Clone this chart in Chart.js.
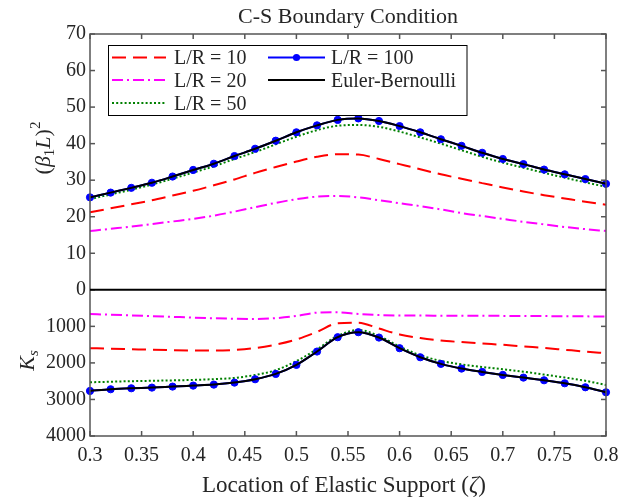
<!DOCTYPE html>
<html>
<head>
<meta charset="utf-8">
<script src="https://cdn.jsdelivr.net/npm/chart.js@4.4.0/dist/chart.umd.min.js"></script>
<style>
  html, body { margin: 0; padding: 0; background: #fff; }
  #wrap { width: 634px; height: 502px; }
</style>
</head>
<body>
<div id="wrap"><canvas id="chart" width="634" height="502"></canvas></div>
<script>
// --- DATA: support location and results per slenderness ratio ---
const zeta = [0.30, 0.32, 0.34, 0.36, 0.38, 0.40, 0.42, 0.44, 0.46, 0.48, 0.50, 0.52, 0.54,
              0.56, 0.58, 0.60, 0.62, 0.64, 0.66, 0.68, 0.70, 0.72, 0.74, 0.76, 0.78, 0.80];

// (beta1 L)^2, upper panel
const freqLR10  = [21.2, 22.3, 23.4, 24.5, 25.8, 27.1, 28.6, 30.2, 32.0, 33.6, 35.1, 36.4, 37.1,
                   37.0, 35.8, 34.4, 33.0, 31.6, 30.4, 29.2, 28.0, 26.9, 25.9, 25.0, 24.1, 23.3];
const freqLR20  = [16.1, 16.7, 17.3, 18.0, 18.7, 19.4, 20.3, 21.4, 22.6, 23.8, 24.8, 25.5, 25.7,
                   25.3, 24.5, 23.7, 22.9, 22.0, 21.0, 20.2, 19.4, 18.6, 17.9, 17.2, 16.6, 16.1];
const freqLR50  = [24.8, 26.1, 27.4, 28.8, 30.4, 32.1, 33.8, 35.8, 37.7, 39.8, 41.9, 43.7, 44.9,
                   45.1, 44.6, 43.3, 41.7, 40.0, 38.2, 36.4, 34.8, 33.4, 32.0, 30.7, 29.4, 28.2];
const freqLR100 = [25.3, 26.6, 27.9, 29.3, 31.0, 32.8, 34.5, 36.6, 38.6, 40.8, 43.1, 45.0, 46.5,
                   46.9, 46.2, 44.8, 43.1, 41.2, 39.4, 37.5, 35.8, 34.4, 32.9, 31.6, 30.3, 29.0];
const freqEB    = [25.3, 26.6, 27.9, 29.3, 31.0, 32.8, 34.5, 36.6, 38.6, 40.8, 43.1, 45.0, 46.5,
                   46.9, 46.2, 44.8, 43.1, 41.2, 39.4, 37.5, 35.8, 34.4, 32.9, 31.6, 30.3, 29.0];

// Ks, lower panel (axis runs downward)
const ksLR10  = [1598, 1610, 1625, 1640, 1652, 1660, 1662, 1645, 1595, 1500, 1360, 1150, 915,
                 900, 1060, 1220, 1320, 1390, 1430, 1470, 1505, 1550, 1590, 1640, 1690, 1735];
const ksLR20  = [665, 680, 700, 720, 740, 760, 778, 792, 800, 775, 715, 625, 615,
                 660, 692, 703, 705, 707, 709, 711, 713, 716, 719, 722, 726, 730];
const ksLR50  = [2530, 2515, 2500, 2490, 2478, 2466, 2445, 2410, 2330, 2200, 1950, 1625, 1260,
                 1100, 1260, 1553, 1790, 1945, 2040, 2110, 2173, 2240, 2320, 2400, 2490, 2603];
const ksLR100 = [2767, 2721, 2694, 2676, 2648, 2621, 2594, 2539, 2447, 2301, 2055, 1689, 1297,
                 1160, 1306, 1598, 1845, 2027, 2155, 2247, 2329, 2402, 2475, 2557, 2667, 2804];
const ksEB    = [2767, 2721, 2694, 2676, 2648, 2621, 2594, 2539, 2447, 2301, 2055, 1689, 1297,
                 1160, 1306, 1598, 1845, 2027, 2155, 2247, 2329, 2402, 2475, 2557, 2667, 2804];

const seriesNames = ['L/R = 10', 'L/R = 20', 'L/R = 50', 'L/R = 100', 'Euler-Bernoulli'];
const xTicks = [0.3, 0.35, 0.4, 0.45, 0.5, 0.55, 0.6, 0.65, 0.7, 0.75, 0.8];
const freqTicks = [0, 10, 20, 30, 40, 50, 60, 70];
const ksTicks = [1000, 2000, 3000, 4000];

// --- STYLE ---
const serif = "'Liberation Serif', 'Times New Roman', serif";
const ink = '#262626';
const frameColor = '#555555';

const styles = [
  { color: '#ff0000', dash: [14, 7], order: 3 },
  { color: '#ff00ff', dash: [11, 4, 2, 4], order: 4 },
  { color: '#008000', dash: [2, 2.2], order: 2 },
  { color: '#0000ff', dash: [], order: 1, marker: true },
  { color: '#000000', dash: [], order: 0 }
];
const freqSeries = [freqLR10, freqLR20, freqLR50, freqLR100, freqEB];
const ksSeries = [ksLR10, ksLR20, ksLR50, ksLR100, ksEB];

function makeDataset(values, i, axis) {
  const s = styles[i];
  return {
    label: seriesNames[i] + (axis === 'y2' ? ' (Ks)' : ''),
    data: values.map((v, k) => ({ x: zeta[k], y: v })),
    yAxisID: axis,
    borderColor: s.color,
    backgroundColor: s.color,
    borderWidth: 2,
    borderDash: s.dash,
    borderCapStyle: 'butt',
    cubicInterpolationMode: 'monotone',
    pointRadius: s.marker ? 3.6 : 0,
    pointBackgroundColor: s.color,
    pointBorderColor: s.color,
    pointBorderWidth: 1,
    order: s.order,
    clip: false
  };
}

const datasets = [];
freqSeries.forEach((vals, i) => datasets.push(makeDataset(vals, i, 'y')));
ksSeries.forEach((vals, i) => datasets.push(makeDataset(vals, i, 'y2')));

// draws a row of text pieces with mixed fonts, centred on x
function drawRuns(ctx, runs, x, y) {
  let total = 0;
  runs.forEach(r => { ctx.font = r.font; r.w = ctx.measureText(r.text).width; total += r.w; });
  let cx = x - total / 2;
  runs.forEach(r => {
    ctx.font = r.font;
    ctx.fillText(r.text, cx, y + (r.dy || 0));
    cx += r.w;
  });
}

function seg(ctx, x1, y1, x2, y2) {
  ctx.beginPath();
  ctx.moveTo(x1, y1);
  ctx.lineTo(x2, y2);
  ctx.stroke();
}

// box, inward ticks on all four sides, and the zero line between the panels
const framePlugin = {
  id: 'frame',
  afterDatasetsDraw(chart) {
    const { ctx, chartArea: a, scales } = chart;
    ctx.save();
    ctx.strokeStyle = frameColor;
    ctx.lineWidth = 1.5;
    ctx.strokeRect(a.left, a.top, a.right - a.left, a.bottom - a.top);
    const tk = 5;
    scales.x.ticks.forEach(t => {
      const px = scales.x.getPixelForValue(t.value);
      seg(ctx, px, a.bottom, px, a.bottom - tk);
      seg(ctx, px, a.top, px, a.top + tk);
    });
    [scales.y, scales.y2].forEach(s => {
      s.ticks.forEach(t => {
        const py = s.getPixelForValue(t.value);
        seg(ctx, a.left, py, a.left + tk, py);
        seg(ctx, a.right, py, a.right - tk, py);
      });
    });
    const y0 = scales.y.getPixelForValue(0);
    ctx.strokeStyle = '#000';
    ctx.lineWidth = 2;
    seg(ctx, a.left, y0, a.right, y0);
    ctx.restore();
  }
};

// legend in two columns, inside the upper panel
const legendPlugin = {
  id: 'boxLegend',
  afterDraw(chart) {
    const ctx = chart.ctx;
    const slots = [
      { col: 0, row: 0 }, { col: 0, row: 1 }, { col: 0, row: 2 },
      { col: 1, row: 0 }, { col: 1, row: 1 }
    ];
    const cols = [{ x0: 112, x1: 166, tx: 174 }, { x0: 268, x1: 325, tx: 331 }];
    const rows = [57.5, 80, 103];
    ctx.save();
    ctx.fillStyle = '#fff';
    ctx.fillRect(108.5, 45.5, 358.5, 70);
    ctx.strokeStyle = '#000';
    ctx.lineWidth = 1;
    ctx.strokeRect(108.5, 45.5, 358.5, 70);
    slots.forEach((p, i) => {
      const s = styles[i], c = cols[p.col], y = rows[p.row];
      ctx.strokeStyle = s.color;
      ctx.lineWidth = 2;
      ctx.setLineDash(s.dash);
      seg(ctx, c.x0, y, c.x1, y);
      ctx.setLineDash([]);
      if (s.marker) {
        ctx.fillStyle = s.color;
        ctx.beginPath();
        ctx.arc((c.x0 + c.x1) / 2, y, 3.6, 0, Math.PI * 2);
        ctx.fill();
      }
      ctx.fillStyle = ink;
      ctx.font = `20px ${serif}`;
      ctx.textAlign = 'left';
      ctx.textBaseline = 'alphabetic';
      ctx.fillText(seriesNames[i], c.tx, y + 6.5);
    });
    ctx.restore();
  }
};

// title and axis titles (with italic symbols, sub- and superscripts)
const titlesPlugin = {
  id: 'titles',
  afterDraw(chart) {
    const { ctx, chartArea: a } = chart;
    const mid = (a.left + a.right) / 2;
    ctx.save();
    ctx.fillStyle = ink;
    ctx.textAlign = 'left';
    ctx.textBaseline = 'alphabetic';
    drawRuns(ctx, [{ text: 'C-S Boundary Condition', font: `22px ${serif}` }], mid, 23);
    drawRuns(ctx, [
      { text: 'Location of Elastic Support (', font: `23px ${serif}` },
      { text: 'ζ', font: `italic 23px ${serif}` },
      { text: ')', font: `23px ${serif}` }
    ], mid - 4, 492);

    ctx.save();
    ctx.translate(50, 148);
    ctx.rotate(-Math.PI / 2);
    drawRuns(ctx, [
      { text: '(', font: `22px ${serif}` },
      { text: 'β', font: `italic 22px ${serif}` },
      { text: '1', font: `15px ${serif}`, dy: 4 },
      { text: 'L', font: `italic 22px ${serif}` },
      { text: ')', font: `22px ${serif}` },
      { text: '2', font: `15px ${serif}`, dy: -10 }
    ], 0, 0);
    ctx.restore();

    ctx.save();
    ctx.translate(34, 360.5);
    ctx.rotate(-Math.PI / 2);
    drawRuns(ctx, [
      { text: 'K', font: `italic 22px ${serif}` },
      { text: 's', font: `italic 15px ${serif}`, dy: 3.5 }
    ], 0, 0);
    ctx.restore();
    ctx.restore();
  }
};

const tickFont = { family: serif, size: 20 };

new Chart(document.getElementById('chart'), {
  type: 'line',
  data: { datasets: datasets },
  options: {
    responsive: false,
    animation: false,
    layout: { padding: { left: 0, right: 28, top: 34, bottom: 0 } },
    plugins: {
      legend: { display: false },
      tooltip: { enabled: false },
      title: { display: false }
    },
    scales: {
      x: {
        type: 'linear',
        min: 0.3,
        max: 0.8,
        grid: { display: false, drawTicks: false },
        border: { display: false },
        afterBuildTicks: s => { s.ticks = xTicks.map(v => ({ value: v })); },
        afterFit: s => { s.height = 66; },
        ticks: {
          padding: 8,
          autoSkip: false,
          maxRotation: 0,
          color: ink,
          font: tickFont,
          callback: v => String(v)
        }
      },
      y: {
        type: 'linear',
        position: 'left',
        stack: 'panels',
        stackWeight: 7,
        weight: 2,
        min: 0,
        max: 70,
        grid: { display: false, drawTicks: false },
        border: { display: false },
        afterBuildTicks: s => { s.ticks = freqTicks.map(v => ({ value: v })); },
        afterFit: s => { s.width = 90; },
        ticks: { padding: 4, color: ink, font: tickFont, autoSkip: false, callback: v => String(v) }
      },
      y2: {
        type: 'linear',
        position: 'left',
        stack: 'panels',
        stackWeight: 4,
        weight: 1,
        min: 0,
        max: 4000,
        reverse: true,
        grid: { display: false, drawTicks: false },
        border: { display: false },
        afterBuildTicks: s => { s.ticks = ksTicks.map(v => ({ value: v })); },
        afterFit: s => { s.width = 90; },
        ticks: { padding: 4, color: ink, font: tickFont, autoSkip: false, callback: v => String(v) }
      }
    }
  },
  plugins: [framePlugin, legendPlugin, titlesPlugin]
});
</script>
</body>
</html>
